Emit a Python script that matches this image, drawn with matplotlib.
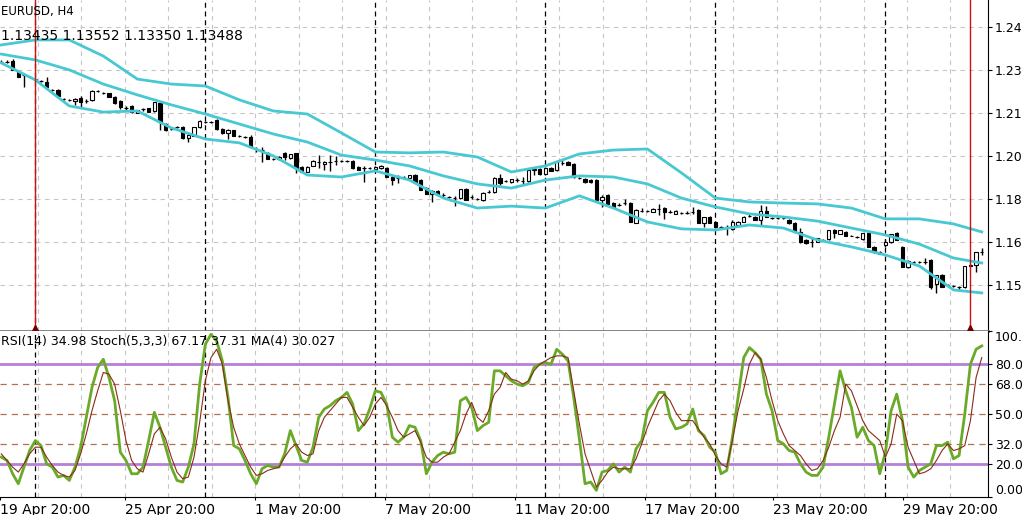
import numpy as np
import matplotlib
matplotlib.use("Agg")
import matplotlib.pyplot as plt

# EURUSD H4 candles (10 bars per line)
opens = [
    1.2344, 1.2344, 1.2347, 1.2307, 1.2297, 1.2289, 1.2282, 1.2275, 1.2271, 1.2243,
    1.2243, 1.2210, 1.2207, 1.2203, 1.2214, 1.2203, 1.2207, 1.2239, 1.2232, 1.2232,
    1.2217, 1.2203, 1.2178, 1.2185, 1.2160, 1.2174, 1.2178, 1.2167, 1.2196, 1.2120,
    1.2102, 1.2109, 1.2109, 1.2070, 1.2077, 1.2109, 1.2127, 1.2127, 1.2134, 1.2102,
    1.2088, 1.2098, 1.2077, 1.2073, 1.2073, 1.2030, 1.2026, 1.2016, 1.1994, 1.1994,
    1.2016, 1.1998, 1.2016, 1.1965, 1.1947, 1.1969, 1.1983, 1.1976, 1.1983, 1.1987,
    1.1987, 1.1987, 1.1987, 1.1965, 1.1962, 1.1962, 1.1958, 1.1962, 1.1962, 1.1929,
    1.1926, 1.1929, 1.1926, 1.1936, 1.1918, 1.1889, 1.1868, 1.1879, 1.1864, 1.1857,
    1.1853, 1.1853, 1.1886, 1.1857, 1.1850, 1.1846, 1.1875, 1.1875, 1.1926, 1.1915,
    1.1911, 1.1918, 1.1915, 1.1915, 1.1954, 1.1958, 1.1940, 1.1962, 1.1954, 1.1980,
    1.1983, 1.1976, 1.1926, 1.1922, 1.1918, 1.1918, 1.1846, 1.1864, 1.1835, 1.1828,
    1.1835, 1.1835, 1.1763, 1.1806, 1.1806, 1.1803, 1.1814, 1.1817, 1.1803, 1.1796,
    1.1799, 1.1799, 1.1803, 1.1810, 1.1763, 1.1785, 1.1767, 1.1749, 1.1749, 1.1742,
    1.1756, 1.1767, 1.1788, 1.1785, 1.1774, 1.1806, 1.1781, 1.1781, 1.1781, 1.1774,
    1.1763, 1.1731, 1.1702, 1.1695, 1.1695, 1.1702, 1.1705, 1.1738, 1.1723, 1.1731,
    1.1716, 1.1713, 1.1705, 1.1727, 1.1677, 1.1659, 1.1684, 1.1695, 1.1727, 1.1677,
    1.1604, 1.1623, 1.1623, 1.1623, 1.1630, 1.1543, 1.1576, 1.1540, 1.1536, 1.1532,
    1.1532, 1.1608, 1.1612, 1.1659,
]
highs = [
    1.2351, 1.2351, 1.2354, 1.2311, 1.2300, 1.2293, 1.2286, 1.2279, 1.2289, 1.2246,
    1.2246, 1.2214, 1.2210, 1.2214, 1.2221, 1.2210, 1.2243, 1.2243, 1.2235, 1.2232,
    1.2221, 1.2207, 1.2185, 1.2189, 1.2171, 1.2178, 1.2178, 1.2199, 1.2196, 1.2124,
    1.2106, 1.2113, 1.2113, 1.2088, 1.2109, 1.2134, 1.2131, 1.2131, 1.2138, 1.2106,
    1.2102, 1.2098, 1.2080, 1.2077, 1.2080, 1.2037, 1.2037, 1.2019, 1.1998, 1.2005,
    1.2019, 1.2012, 1.2016, 1.1969, 1.1969, 1.1990, 1.2008, 1.1987, 1.2008, 1.2005,
    1.1990, 1.1990, 1.1990, 1.1969, 1.1969, 1.1965, 1.1969, 1.1972, 1.1965, 1.1933,
    1.1936, 1.1933, 1.1936, 1.1940, 1.1922, 1.1893, 1.1882, 1.1882, 1.1871, 1.1861,
    1.1861, 1.1886, 1.1889, 1.1864, 1.1853, 1.1875, 1.1882, 1.1929, 1.1940, 1.1918,
    1.1922, 1.1926, 1.1929, 1.1958, 1.1962, 1.1962, 1.1965, 1.1965, 1.1987, 1.1990,
    1.1987, 1.1980, 1.1929, 1.1926, 1.1922, 1.1922, 1.1864, 1.1868, 1.1839, 1.1835,
    1.1850, 1.1839, 1.1814, 1.1817, 1.1810, 1.1817, 1.1832, 1.1821, 1.1810, 1.1810,
    1.1803, 1.1806, 1.1821, 1.1814, 1.1785, 1.1788, 1.1770, 1.1752, 1.1756, 1.1774,
    1.1770, 1.1788, 1.1796, 1.1788, 1.1828, 1.1824, 1.1785, 1.1785, 1.1785, 1.1778,
    1.1767, 1.1745, 1.1705, 1.1709, 1.1709, 1.1705, 1.1738, 1.1742, 1.1738, 1.1734,
    1.1720, 1.1716, 1.1727, 1.1731, 1.1680, 1.1662, 1.1702, 1.1723, 1.1731, 1.1680,
    1.1630, 1.1626, 1.1626, 1.1637, 1.1633, 1.1576, 1.1579, 1.1543, 1.1540, 1.1536,
    1.1608, 1.1615, 1.1659, 1.1673,
]
lows = [
    1.2340, 1.2340, 1.2315, 1.2289, 1.2253, 1.2286, 1.2279, 1.2271, 1.2250, 1.2239,
    1.2217, 1.2207, 1.2203, 1.2189, 1.2181, 1.2196, 1.2203, 1.2235, 1.2228, 1.2217,
    1.2192, 1.2174, 1.2171, 1.2160, 1.2160, 1.2167, 1.2163, 1.2163, 1.2098, 1.2095,
    1.2098, 1.2106, 1.2066, 1.2055, 1.2077, 1.2106, 1.2124, 1.2124, 1.2098, 1.2084,
    1.2066, 1.2077, 1.2073, 1.2070, 1.2034, 1.2019, 1.1983, 1.1994, 1.1990, 1.1990,
    1.1990, 1.1994, 1.1944, 1.1947, 1.1947, 1.1969, 1.1962, 1.1954, 1.1951, 1.1972,
    1.1983, 1.1983, 1.1958, 1.1954, 1.1911, 1.1958, 1.1954, 1.1958, 1.1929, 1.1900,
    1.1908, 1.1926, 1.1922, 1.1911, 1.1882, 1.1868, 1.1839, 1.1864, 1.1857, 1.1853,
    1.1824, 1.1850, 1.1846, 1.1850, 1.1846, 1.1842, 1.1871, 1.1871, 1.1900, 1.1911,
    1.1908, 1.1911, 1.1900, 1.1911, 1.1936, 1.1936, 1.1936, 1.1951, 1.1951, 1.1972,
    1.1972, 1.1926, 1.1922, 1.1908, 1.1908, 1.1846, 1.1821, 1.1832, 1.1821, 1.1824,
    1.1828, 1.1767, 1.1763, 1.1803, 1.1803, 1.1803, 1.1792, 1.1778, 1.1799, 1.1796,
    1.1796, 1.1796, 1.1796, 1.1763, 1.1749, 1.1763, 1.1745, 1.1745, 1.1720, 1.1738,
    1.1752, 1.1767, 1.1785, 1.1774, 1.1756, 1.1785, 1.1778, 1.1778, 1.1778, 1.1760,
    1.1731, 1.1691, 1.1687, 1.1677, 1.1695, 1.1698, 1.1702, 1.1709, 1.1723, 1.1716,
    1.1716, 1.1709, 1.1702, 1.1677, 1.1655, 1.1651, 1.1677, 1.1691, 1.1702, 1.1604,
    1.1601, 1.1619, 1.1619, 1.1615, 1.1525, 1.1511, 1.1532, 1.1536, 1.1532, 1.1522,
    1.1529, 1.1608, 1.1586, 1.1648,
]
closes = [
    1.2344, 1.2344, 1.2315, 1.2289, 1.2297, 1.2289, 1.2282, 1.2275, 1.2253, 1.2243,
    1.2221, 1.2210, 1.2207, 1.2210, 1.2199, 1.2203, 1.2239, 1.2239, 1.2232, 1.2217,
    1.2196, 1.2181, 1.2178, 1.2163, 1.2171, 1.2174, 1.2163, 1.2199, 1.2127, 1.2098,
    1.2102, 1.2109, 1.2070, 1.2080, 1.2109, 1.2131, 1.2127, 1.2127, 1.2102, 1.2088,
    1.2098, 1.2077, 1.2077, 1.2073, 1.2037, 1.2030, 1.2026, 1.1994, 1.1994, 1.2001,
    1.2001, 1.2012, 1.1962, 1.1947, 1.1965, 1.1987, 1.1983, 1.1983, 1.1983, 1.1987,
    1.1987, 1.1987, 1.1962, 1.1954, 1.1962, 1.1962, 1.1965, 1.1969, 1.1929, 1.1918,
    1.1926, 1.1929, 1.1936, 1.1911, 1.1882, 1.1868, 1.1879, 1.1864, 1.1864, 1.1857,
    1.1853, 1.1886, 1.1846, 1.1857, 1.1850, 1.1871, 1.1875, 1.1926, 1.1908, 1.1915,
    1.1922, 1.1918, 1.1915, 1.1954, 1.1958, 1.1940, 1.1962, 1.1951, 1.1983, 1.1980,
    1.1972, 1.1929, 1.1926, 1.1911, 1.1911, 1.1846, 1.1857, 1.1832, 1.1821, 1.1828,
    1.1835, 1.1767, 1.1810, 1.1806, 1.1806, 1.1814, 1.1814, 1.1803, 1.1803, 1.1806,
    1.1799, 1.1799, 1.1803, 1.1763, 1.1785, 1.1763, 1.1749, 1.1749, 1.1749, 1.1767,
    1.1767, 1.1785, 1.1788, 1.1774, 1.1806, 1.1785, 1.1781, 1.1781, 1.1781, 1.1763,
    1.1731, 1.1695, 1.1691, 1.1695, 1.1709, 1.1702, 1.1738, 1.1727, 1.1738, 1.1716,
    1.1716, 1.1713, 1.1727, 1.1677, 1.1659, 1.1651, 1.1695, 1.1723, 1.1702, 1.1604,
    1.1626, 1.1623, 1.1623, 1.1623, 1.1532, 1.1576, 1.1532, 1.1540, 1.1536, 1.1532,
    1.1608, 1.1612, 1.1659, 1.1659,
]

# Bollinger bands, read every 6 bars
band_bars = [0, 6, 12, 18, 24, 30, 36, 42, 48, 54, 60, 66, 72, 78, 84,
             90, 96, 102, 108, 114, 120, 126, 132, 138, 144, 150, 156, 162, 168, 173]
band_upper = [1.2405, 1.2423, 1.2423, 1.2365, 1.2282, 1.2264, 1.2257, 1.2207, 1.2167, 1.2156,
              1.2088, 1.2019, 1.2016, 1.2019, 1.2001, 1.1947, 1.1969, 1.2012, 1.2026, 1.2030,
              1.1944, 1.1853, 1.1839, 1.1835, 1.1832, 1.1817, 1.1778, 1.1778, 1.1760, 1.1731]
band_middle = [1.2372, 1.2351, 1.2315, 1.2264, 1.2225, 1.2189, 1.2156, 1.2120, 1.2084, 1.2055,
               1.2008, 1.1990, 1.1969, 1.1933, 1.1904, 1.1889, 1.1918, 1.1933, 1.1929, 1.1904,
               1.1853, 1.1821, 1.1796, 1.1785, 1.1770, 1.1745, 1.1720, 1.1687, 1.1637, 1.1619]
band_lower = [1.2340, 1.2279, 1.2185, 1.2163, 1.2167, 1.2106, 1.2066, 1.2052, 1.2005, 1.1936,
              1.1929, 1.1951, 1.1918, 1.1853, 1.1817, 1.1824, 1.1817, 1.1861, 1.1817, 1.1767,
              1.1742, 1.1738, 1.1756, 1.1745, 1.1702, 1.1677, 1.1648, 1.1608, 1.1522, 1.1511]

# Stochastic(5,3,3): main and signal, one value per bar
stoch_main = [
    24, 22, 14, 8, 18, 28, 34, 31, 20, 18,
    12, 13, 10, 18, 30, 48, 66, 78, 83, 72,
    58, 27, 22, 14, 14, 18, 34, 51, 42, 30,
    18, 10, 9, 18, 32, 68, 92, 98, 94, 82,
    60, 31, 29, 22, 14, 8, 17, 19, 18, 18,
    26, 40, 31, 22, 21, 30, 48, 53, 55, 58,
    60, 63, 56, 40, 44, 53, 64, 63, 56, 36,
    33, 36, 43, 42, 34, 14, 21, 25, 27, 26,
    27, 58, 60, 54, 40, 43, 45, 76, 76, 73,
    70, 68, 67, 69, 78, 80, 81, 80, 89, 86,
    82, 60, 35, 8, 9, 4, 15, 16, 20, 15,
    18, 15, 29, 34, 52, 57, 63, 63, 48, 41,
    42, 44, 53, 40, 37, 30, 27, 14, 16, 36,
    60, 84, 90, 87, 83, 62, 52, 34, 32, 28,
    27, 20, 15, 13, 13, 18, 36, 56, 76, 64,
    54, 36, 42, 34, 31, 14, 27, 52, 62, 46,
    18, 12, 16, 18, 20, 31, 31, 33, 23, 25,
    50, 80, 89, 91,
]
stoch_signal = [
    26, 22, 18, 15, 20, 26, 30, 30, 24, 19,
    15, 13, 12, 16, 26, 38, 52, 64, 75, 74,
    68, 52, 34, 22, 17, 15, 26, 38, 42, 35,
    24, 15, 11, 12, 24, 45, 70, 84, 89, 80,
    58, 42, 32, 25, 18, 13, 14, 16, 17, 18,
    24, 29, 32, 27, 25, 26, 40, 48, 52, 56,
    60, 60, 54, 48, 43, 48, 56, 60, 55, 48,
    40, 36, 38, 40, 33, 24, 21, 21, 24, 26,
    33, 40, 50, 57, 48, 45, 52, 62, 66, 75,
    71, 70, 68, 70, 76, 80, 82, 84, 85, 85,
    84, 64, 44, 26, 16, 6, 10, 15, 18, 17,
    17, 17, 23, 32, 42, 50, 58, 62, 58, 51,
    46, 46, 46, 41, 36, 32, 25, 20, 18, 34,
    52, 65, 80, 87, 83, 72, 58, 46, 38, 31,
    28, 25, 20, 16, 17, 22, 30, 40, 48, 68,
    64, 55, 46, 40, 37, 34, 24, 32, 50, 46,
    30, 22, 14, 15, 17, 22, 28, 32, 28, 29,
    31, 46, 72, 84,
]

price_ticks = [1.2470, 1.2315, 1.2160, 1.2005, 1.1850, 1.1695, 1.1540]
price_labels = ['1.24', '1.23', '1.21', '1.20', '1.18', '1.16', '1.15']
osc_ticks = [100, 80, 68, 50, 32, 20, 0]
osc_labels = ['100.', '80.0', '68.0', '50.0', '32.0', '20.0', '0.00']
date_bars = [-0.2, 21.8, 44.8, 67.7, 90.6, 113.6, 136.2, 159.1]
date_labels = ['19 Apr 20:00', '25 Apr 20:00', '1 May 20:00', '7 May 20:00',
               '11 May 20:00', '17 May 20:00', '23 May 20:00', '29 May 20:00']
week_bars = [6, 36, 66, 96, 126, 156]
marker_bars = [6, 171]

W, H = 1022, 515
plt.rcParams['font.family'] = ['DejaVu Sans']
fig = plt.figure(figsize=(W / 100, H / 100), dpi=100)
fig.patch.set_facecolor('white')
ax = fig.add_axes([0, 1 - 331 / H, 988 / W, 331 / H])
ax2 = fig.add_axes([0, 1 - 497 / H, 988 / W, 166 / H], sharex=ax)

bars = np.arange(len(closes))
o = np.array(opens)
c = np.array(closes)
up = c >= o

grid_step = (date_bars[2] - date_bars[1]) / 3
grid_x = np.arange(date_bars[1] - 3 * grid_step, 175, grid_step)
grid_style = dict(color='#c6c6c6', lw=0.8, ls=(0, (4, 4)), zorder=0)
for a in (ax, ax2):
    for gx in grid_x:
        a.axvline(gx, **grid_style)
    for wb in week_bars:
        a.axvline(wb, color='black', lw=0.9, ls=(0, (4, 3)), zorder=1)
for pt in price_ticks:
    ax.axhline(pt, **grid_style)

# candles
ax.vlines(bars, lows, highs, color='black', lw=1, zorder=2)
ax.bar(bars, np.abs(c - o), bottom=np.minimum(o, c), width=0.6,
       color=np.where(up, 'white', 'black'), edgecolor='black', linewidth=0.8, zorder=3)

# bollinger bands
for band in (band_upper, band_middle, band_lower):
    ax.plot(band_bars, band, color='#48c8d2', lw=2, zorder=4, solid_joinstyle='round')

for mb in marker_bars:
    ax.axvline(mb, color='#cc1111', lw=1, zorder=5)
ax.plot(marker_bars, [0.008] * len(marker_bars), transform=ax.get_xaxis_transform(),
        ls='none', marker='^', ms=4, color='#700000', zorder=6, clip_on=False)

ax.set_xlim(-0.23, 174.1)
ax.set_ylim(1.13738, 1.2567)
ax.yaxis.tick_right()
ax.set_yticks(price_ticks)
ax.set_yticklabels(price_labels)
ax.tick_params(axis='y', length=3, pad=2, labelsize=9, width=0.8)
ax.tick_params(axis='x', bottom=False, labelbottom=False)
for s in ('top', 'left'):
    ax.spines[s].set_visible(False)
ax.spines['right'].set_color('black')
ax.spines['bottom'].set_color('#7a7a7a')
ax.spines['bottom'].set_linewidth(2)

# oscillator panel
ax2.axhline(80, color='#b57ed8', lw=2, zorder=2)
ax2.axhline(20, color='#b57ed8', lw=2, zorder=2)
for lvl in (68, 50, 32):
    ax2.axhline(lvl, color='#b3704e', lw=0.9, ls=(0, (5, 4)), zorder=2)
ax2.plot(bars, stoch_main, color='#6aaa28', lw=2, zorder=4)
ax2.plot(bars, stoch_signal, color='#8b2a1a', lw=0.8, zorder=5)
ax2.set_ylim(0, 100)
ax2.yaxis.tick_right()
ax2.set_yticks(osc_ticks)
ax2.set_yticklabels(osc_labels)
ax2.tick_params(axis='y', length=3, pad=2, labelsize=9, width=0.8)
ytl = ax2.get_yticklabels()
ytl[0].set_va('top')
ytl[-1].set_va('bottom')
ax2.set_xticks(date_bars)
ax2.set_xticklabels(date_labels)
for t in ax2.get_xticklabels():
    t.set_ha('left')
ax2.tick_params(axis='x', length=2, pad=2, labelsize=10, width=0.8)
for s in ('top', 'left'):
    ax2.spines[s].set_visible(False)

fig.text(1 / W, 1 - 12 / H, 'EURUSD, H4', va='center', ha='left', fontsize=8.5)
fig.text(1 / W, 1 - 36 / H, '1.13435 1.13552 1.13350 1.13488', va='center', ha='left', fontsize=10)
fig.text(1 / W, 1 - 342 / H, 'RSI(14) 34.98 Stoch(5,3,3) 67.17 37.31 MA(4) 30.027',
         va='center', ha='left', fontsize=9, zorder=10)

fig.savefig('out.png', dpi=100, facecolor='white')
